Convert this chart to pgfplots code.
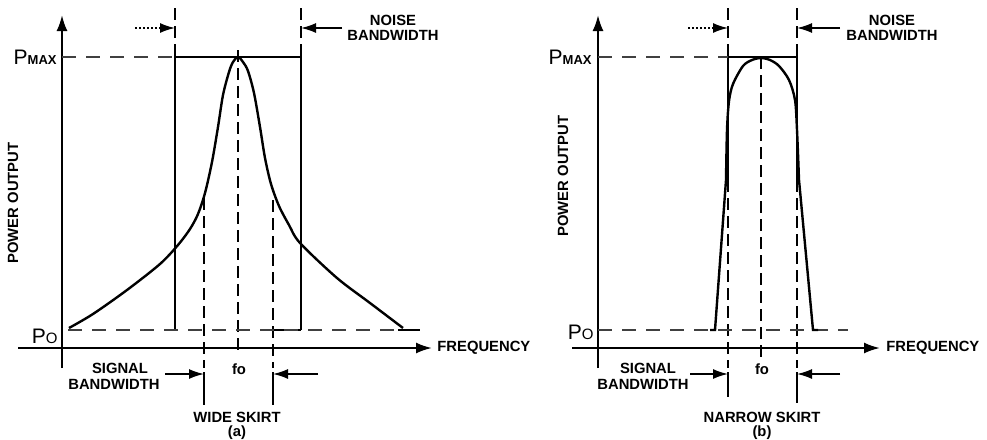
\documentclass[border=0pt]{standalone}
\usepackage{fontspec}
\setmainfont{Liberation Sans}
\usepackage{pgfplots}
\pgfplotsset{compat=1.18}
\usetikzlibrary{arrows.meta}
\newcommand{\lab}{\fontsize{7.4bp}{7.6bp}\selectfont\bfseries}
\newcommand{\Pmax}{{\fontsize{10.5bp}{10bp}\selectfont P}{\fontsize{6.5bp}{6.5bp}\selectfont\bfseries MAX}}
\newcommand{\Pzero}{{\fontsize{10.5bp}{10bp}\selectfont P}{\fontsize{7.5bp}{7.5bp}\selectfont O}}
\begin{document}
\begin{tikzpicture}
\begin{axis}[
  scale only axis, width=493.5bp, height=219.5bp,
  xmin=0, xmax=987, ymin=0, ymax=439, y dir=reverse,
  hide axis, clip=false,
  every axis plot/.append style={black, line width=1bp, mark=none},
  axl/.style={line width=1.1bp, -{Latex[length=8bp,width=5.5bp]}},
  solid1/.style={line width=1bp},
  dashl/.style={line width=0.9bp, dash pattern=on 6bp off 3bp},
  thind/.style={line width=0.6bp, black!75, dash pattern=on 7bp off 5bp},
  arr/.style={line width=0.8bp, -{Latex[length=7.5bp,width=5bp]}},
  darr/.style={line width=0.8bp, dash pattern=on 1.2bp off 0.8bp, -{Latex[length=7.5bp,width=5bp]}},
  curve/.style={line width=1.2bp, smooth, tension=0.5},
]
\path (rel axis cs:0,0) rectangle (rel axis cs:1,1);

% ================= panel (a) =================
\addplot[axl] coordinates {(62,368) (62,15)};
\addplot[axl] coordinates {(18,348) (432,348)};
% noise bandwidth rectangle
\addplot[solid1] coordinates {(175,330) (175,57) (301,57) (301,330)};
\addplot[solid1] coordinates {(273,330) (301,330)};
\addplot[dashl] coordinates {(175,8) (175,57)};
\addplot[dashl] coordinates {(301,8) (301,57)};
% centre line
\addplot[dashl] coordinates {(238,50) (238,353)};
% signal bandwidth lines
\addplot[dashl] coordinates {(204,198) (204,368)};
\addplot[solid1] coordinates {(204,372) (204,405)};
\addplot[dashl] coordinates {(273,200) (273,368)};
\addplot[solid1] coordinates {(273,372) (273,405)};
% reference levels
\addplot[thind] coordinates {(62,57) (175,57)};
\addplot[thind] coordinates {(68,330) (420,330)};
% arrows
\addplot[darr] coordinates {(135,28) (175,28)};
\addplot[arr] coordinates {(342,28) (301,28)};
\addplot[arr] coordinates {(165,374) (204,374)};
\addplot[arr] coordinates {(318,374) (273,374)};
% response curve (wide skirt)
\addplot[curve] coordinates {
 (69,328) (93,314) (127,290) (160,264) (178,245) (190,229) (198,214) (205,193)
 (212,162) (218,127) (223,95) (229,72) (233,62) (238,57)
 (243,62) (248,71) (254,93) (260,127) (265,158) (271,184) (279,206) (289,225)
 (300,243) (337,278) (370,303) (403,328)};
\addplot[solid1] coordinates {(398,330) (420,330)};

% ================= panel (b) =================
\addplot[axl] coordinates {(598,368) (598,15)};
\addplot[axl] coordinates {(572,348) (880,348)};
\addplot[solid1] coordinates {(728,180) (728,57) (797,57) (797,180)};
\addplot[dashl] coordinates {(728,8) (728,57)};
\addplot[dashl] coordinates {(797,8) (797,57)};
\addplot[dashl] coordinates {(728,180) (728,368)};
\addplot[solid1] coordinates {(728,372) (728,397)};
\addplot[dashl] coordinates {(797,180) (797,368)};
\addplot[solid1] coordinates {(797,372) (797,403)};
\addplot[dashl] coordinates {(761,57) (761,362)};
\addplot[thind] coordinates {(598,57) (728,57)};
\addplot[thind] coordinates {(598,330) (848,330)};
\addplot[darr] coordinates {(688,28) (728,28)};
\addplot[arr] coordinates {(840,28) (797,28)};
\addplot[arr] coordinates {(690,374) (728,374)};
\addplot[arr] coordinates {(840,374) (797,374)};
% response curve (narrow skirt)
\addplot[line width=1.2bp] coordinates {(710,330) (715,330) (726,180)};
\addplot[curve] coordinates {
 (726,180) (727,130) (729,101) (733,84) (743,66) (752,60) (761,58)
 (770,60) (779,66) (789,80) (795,100) (797,130) (799,180)};
\addplot[line width=1.2bp] coordinates {(799,180) (813,330) (818,330)};

% ================= labels =================
\node[anchor=east, inner sep=0] at (axis cs:57,57) {\Pmax};
\node[anchor=east, inner sep=0] at (axis cs:58,336) {\Pzero};
\node[rotate=90, inner sep=0, font=\lab] at (axis cs:13,203) {POWER OUTPUT};
\node[font=\lab, inner sep=0] at (axis cs:393,20.5) {NOISE};
\node[font=\lab, inner sep=0] at (axis cs:393,35) {BANDWIDTH};
\node[font=\lab, inner sep=0, anchor=west] at (axis cs:437,348) {FREQUENCY};
\node[font=\lab, inner sep=0] at (axis cs:120,368.5) {SIGNAL};
\node[font=\lab, inner sep=0] at (axis cs:114,384.5) {BANDWIDTH};
\node[font=\lab, inner sep=0] at (axis cs:239,369) {fo};
\node[font=\lab, inner sep=0] at (axis cs:237,417) {WIDE SKIRT};
\node[font=\lab, inner sep=0] at (axis cs:237,433) {(a)};

\node[anchor=east, inner sep=0] at (axis cs:592,57) {\Pmax};
\node[anchor=east, inner sep=0] at (axis cs:594,332) {\Pzero};
\node[rotate=90, inner sep=0, font=\lab] at (axis cs:563,176) {POWER OUTPUT};
\node[font=\lab, inner sep=0] at (axis cs:892,20.5) {NOISE};
\node[font=\lab, inner sep=0] at (axis cs:892,35) {BANDWIDTH};
\node[font=\lab, inner sep=0, anchor=west] at (axis cs:886,348) {FREQUENCY};
\node[font=\lab, inner sep=0] at (axis cs:648,368.5) {SIGNAL};
\node[font=\lab, inner sep=0] at (axis cs:643,384.5) {BANDWIDTH};
\node[font=\lab, inner sep=0] at (axis cs:762,369) {fo};
\node[font=\lab, inner sep=0] at (axis cs:762,417) {NARROW SKIRT};
\node[font=\lab, inner sep=0] at (axis cs:762,433) {(b)};
\end{axis}
\end{tikzpicture}
\end{document}
